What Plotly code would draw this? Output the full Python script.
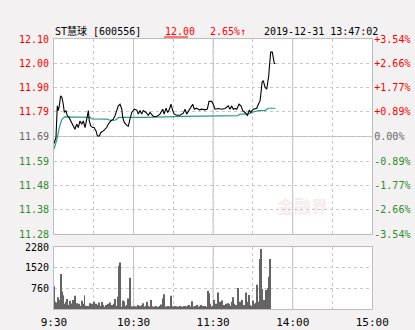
import plotly.graph_objects as go

# ---------------- data ----------------
prev_close = 11.69
pct_ticks = [3.54, 2.66, 1.77, 0.89, 0.00, -0.89, -1.77, -2.66, -3.54]
price_tick_labels = ["12.10", "12.00", "11.90", "11.79", "11.69", "11.59", "11.48", "11.38", "11.28"]
pct_tick_labels = ["+3.54%", "+2.66%", "+1.77%", "+0.89%", "0.00%", "-0.89%", "-1.77%", "-2.66%", "-3.54%"]
time_ticks = [0, 30, 60, 90, 120, 150, 180, 210, 240]
time_labels = ["9:30", "", "10:30", "", "11:30", "", "14:00", "", "15:00"]
vol_ticks = [760, 1520, 2280]
vol_tick_labels = ["760", "1520", "2280"]

# minutes since 9:30 (trading minutes) and prices
price_min = [0, 1.5, 2, 2.5, 3.2, 4, 5, 6, 7, 7.8, 9, 10, 11.3, 13.3, 14.6, 15.8, 17.1, 18.3,
             19.6, 20.9, 22.1, 23.4, 24.7, 25.9, 26.6, 27.7, 29.2, 30.2, 31.7, 32.7, 34.2,
             35.4, 37.2, 39.7, 40.9, 42.8, 44.7, 46, 47.3, 48.5, 49.8, 51.1, 51.8, 53, 54.8,
             56, 57.3, 58.6, 60.6, 62.4, 63.6, 64.9, 66.1, 67.3, 69.4, 71.1, 72.4, 74.9, 77.5,
             79.9, 82, 83, 84.5, 85.7, 87, 88.2, 89.5, 90.7, 92.5, 95, 97.5, 98.8, 100, 102.6,
             104.6, 105.8, 107.6, 109.6, 111.4, 113.9, 115.6, 116.9, 118.9, 120.1, 121.4,
             123.9, 126.5, 129, 131.4, 132.7, 134, 135.2, 136.5, 137.8, 139.5, 141, 142.3,
             144, 145.8, 147.3, 148.3, 150.3, 152.9, 154.1, 155.4, 156.1, 156.9, 157.8, 159.1,
             160.4, 161.2, 161.9, 162.7, 163.4, 164.6, 165.4, 166.1, 167]
price_val = [11.66, 11.686, 11.756, 11.82, 11.80, 11.82, 11.863, 11.856, 11.827, 11.792, 11.80,
             11.778, 11.771, 11.75, 11.735, 11.721, 11.742, 11.728, 11.756, 11.742, 11.756,
             11.728, 11.764, 11.80, 11.756, 11.735, 11.728, 11.728, 11.714, 11.692, 11.692,
             11.707, 11.714, 11.728, 11.742, 11.756, 11.764, 11.778, 11.80, 11.82, 11.827,
             11.806, 11.771, 11.75, 11.738, 11.733, 11.764, 11.792, 11.806, 11.802, 11.785,
             11.80, 11.785, 11.80, 11.792, 11.78, 11.792, 11.775, 11.775, 11.785, 11.806,
             11.785, 11.81, 11.792, 11.806, 11.827, 11.80, 11.785, 11.78, 11.78, 11.789,
             11.806, 11.785, 11.806, 11.827, 11.806, 11.81, 11.803, 11.806, 11.803, 11.806,
             11.839, 11.839, 11.827, 11.806, 11.809, 11.806, 11.809, 11.82, 11.806, 11.82,
             11.806, 11.809, 11.806, 11.827, 11.82, 11.80, 11.792, 11.78, 11.803, 11.792,
             11.806, 11.81, 11.827, 11.842, 11.877, 11.92, 11.927, 11.899, 11.891, 11.92,
             11.948, 12.005, 12.048, 12.048, 12.02, 12.00, 12.00]

avg_min = [0, 2.3, 4, 6, 8, 27, 28.7, 40, 42.2, 46.2, 48.8, 70, 97.8, 119, 138.8, 140.3,
           146.3, 151.6, 154.6, 159.1, 161.4, 167]
avg_val = [11.636, 11.68, 11.728, 11.764, 11.773, 11.771, 11.765, 11.764, 11.759, 11.759,
           11.771, 11.771, 11.775, 11.777, 11.779, 11.785, 11.785, 11.797, 11.80, 11.80,
           11.81, 11.81]

volume = [850, 280, 250, 440, 340, 1300, 650, 520, 200, 280, 380, 160, 310, 210, 340, 320,
          500, 220, 160, 200, 120, 310, 200, 520, 130, 90, 120, 220, 160, 200, 280, 120,
          200, 160, 250, 120, 270, 160, 90, 160, 120, 200, 250, 120, 160, 200, 380, 120,
          460, 1600, 1720, 90, 320, 280, 120, 160, 400, 1160, 100, 100, 110, 90, 100, 160,
          100, 120, 150, 220, 100, 120, 280, 130, 100, 340, 80, 100, 100, 120, 80, 100,
          120, 180, 400, 550, 100, 100, 120, 100, 500, 110, 100, 120, 90, 100, 100, 120,
          110, 80, 120, 120, 100, 140, 160, 100, 300, 100, 120, 100, 160, 100, 100, 160,
          120, 100, 120, 90, 670, 590, 200, 100, 120, 340, 200, 120, 620, 280, 200, 320,
          160, 120, 200, 220, 200, 120, 280, 440, 200, 160, 110, 780, 280, 200, 340, 160,
          120, 620, 280, 530, 160, 120, 320, 200, 240, 900, 280, 1850, 2220, 750, 340, 320,
          710, 770, 1200, 1850]
vol_min = list(range(len(volume)))

# ---------------- styling ----------------
RED = "#FF0000"
GREEN = "#2E8B2E"
GRAY = "#666666"
GRID = "#C8C8C8"
BORDER = "#BDBDBD"
FONT = "DejaVu Sans Mono, Noto Sans CJK SC, monospace"

price_tick_vals = [prev_close * (1 + p / 100) for p in pct_ticks]


def colored(txt, pct):
    c = RED if pct > 0 else (GREEN if pct < 0 else GRAY)
    return f'<span style="color:{c}">{txt}</span>'


left_text = [colored(t, p) for t, p in zip(price_tick_labels, pct_ticks)]
right_text = [colored(t, p) for t, p in zip(pct_tick_labels, pct_ticks)]

fig = go.Figure()
fig.add_trace(go.Scatter(x=avg_min, y=avg_val, mode="lines",
                         line=dict(color="#2A9A90", width=1.2), xaxis="x", yaxis="y",
                         hoverinfo="skip"))
fig.add_trace(go.Scatter(x=price_min, y=price_val, mode="lines",
                         line=dict(color="#000000", width=1.1), xaxis="x", yaxis="y",
                         hoverinfo="skip"))
# dummy trace for right axis
fig.add_trace(go.Scatter(x=[0], y=[prev_close], mode="markers", marker=dict(opacity=0),
                         xaxis="x", yaxis="y2", hoverinfo="skip"))
fig.add_trace(go.Bar(x=vol_min, y=volume, marker=dict(color="#646464", line=dict(width=0)),
                     xaxis="x2", yaxis="y3", hoverinfo="skip"))

prange = [price_tick_vals[-1], price_tick_vals[0]]
xdom = [54 / 415, 372.3 / 415]

axis_common = dict(showline=True, linecolor=BORDER, linewidth=1, mirror=True,
                   showgrid=True, gridcolor=GRID, griddash="3px,3px", gridwidth=1,
                   zeroline=False, ticks="", automargin=False)

fig.update_layout(
    width=415, height=330,
    margin=dict(l=0, r=0, t=0, b=0, autoexpand=False),
    paper_bgcolor="#F3F1F1", plot_bgcolor="#FFFFFF",
    showlegend=False, bargap=0.25,
    font=dict(family=FONT, size=10, color="#000000"),
    xaxis=dict(domain=xdom, range=[0, 240], tickvals=time_ticks, showticklabels=False,
               anchor="y", **axis_common),
    xaxis2=dict(domain=xdom, range=[0, 240], tickvals=time_ticks, ticktext=time_labels,
                anchor="y3", tickfont=dict(size=11, family=FONT, color="#000000"),
                ticklabelstandoff=2, **axis_common),
    yaxis=dict(domain=[96 / 330, 291 / 330], range=prange, tickvals=price_tick_vals,
               ticktext=left_text, anchor="x", ticklabelstandoff=2,
               tickfont=dict(size=10, family=FONT), **axis_common),
    yaxis2=dict(domain=[96 / 330, 291 / 330], range=prange, tickvals=price_tick_vals,
                ticktext=right_text, overlaying="y", side="right", anchor="x",
                ticklabelstandoff=1, showgrid=False, showline=False, zeroline=False,
                ticks="", automargin=False, tickfont=dict(size=10, family=FONT)),
    yaxis3=dict(domain=[20.7 / 330, 82.7 / 330], range=[0, 2280], tickvals=vol_ticks,
                ticktext=vol_tick_labels, anchor="x2", ticklabelstandoff=2,
                tickfont=dict(size=10, family=FONT, color="#000000"), **axis_common),
)

# solid guide lines: previous close and hour marks
fig.add_shape(type="line", xref="x", yref="y", x0=0, x1=240, y0=prev_close, y1=prev_close,
              line=dict(color=BORDER, width=1), layer="below")
for t in [60, 120, 180]:
    fig.add_shape(type="line", xref="x", yref="y", x0=t, x1=t, y0=prange[0], y1=prange[1],
                  line=dict(color=BORDER, width=1), layer="below")
    fig.add_shape(type="line", xref="x2", yref="y3", x0=t, x1=t, y0=0, y1=2280,
                  line=dict(color=BORDER, width=1), layer="below")

# header texts
ty = 1 - 31 / 330
fig.add_annotation(x=53 / 415, y=ty, xref="paper", yref="paper", xanchor="left",
                   yanchor="middle", showarrow=False, text="ST慧球 [600556]",
                   font=dict(size=10, family=FONT, color="#000000"))
fig.add_annotation(x=163 / 415, y=ty, xref="paper", yref="paper", xanchor="left",
                   yanchor="middle", showarrow=False, text="12.00",
                   font=dict(size=10, family=FONT, color=RED))
fig.add_shape(type="line", xref="paper", yref="paper", x0=164 / 415, x1=188 / 415,
              y0=1 - 37 / 330, y1=1 - 37 / 330, line=dict(color=RED, width=1))
fig.add_annotation(x=208 / 415, y=ty, xref="paper", yref="paper", xanchor="left",
                   yanchor="middle", showarrow=False, text="2.65%↑",
                   font=dict(size=10, family=FONT, color=RED))
fig.add_annotation(x=262 / 415, y=ty, xref="paper", yref="paper", xanchor="left",
                   yanchor="middle", showarrow=False, text="2019-12-31 13:47:02",
                   font=dict(size=10, family=FONT, color="#000000"))
# faint watermark
fig.add_annotation(x=330 / 415, y=1 - 205 / 330, xref="paper", yref="paper",
                   showarrow=False, text="<b>金融界</b>",
                   font=dict(size=17, family="Noto Sans CJK SC", color="rgba(230,205,205,0.4)"))

fig.write_html("out.html")
